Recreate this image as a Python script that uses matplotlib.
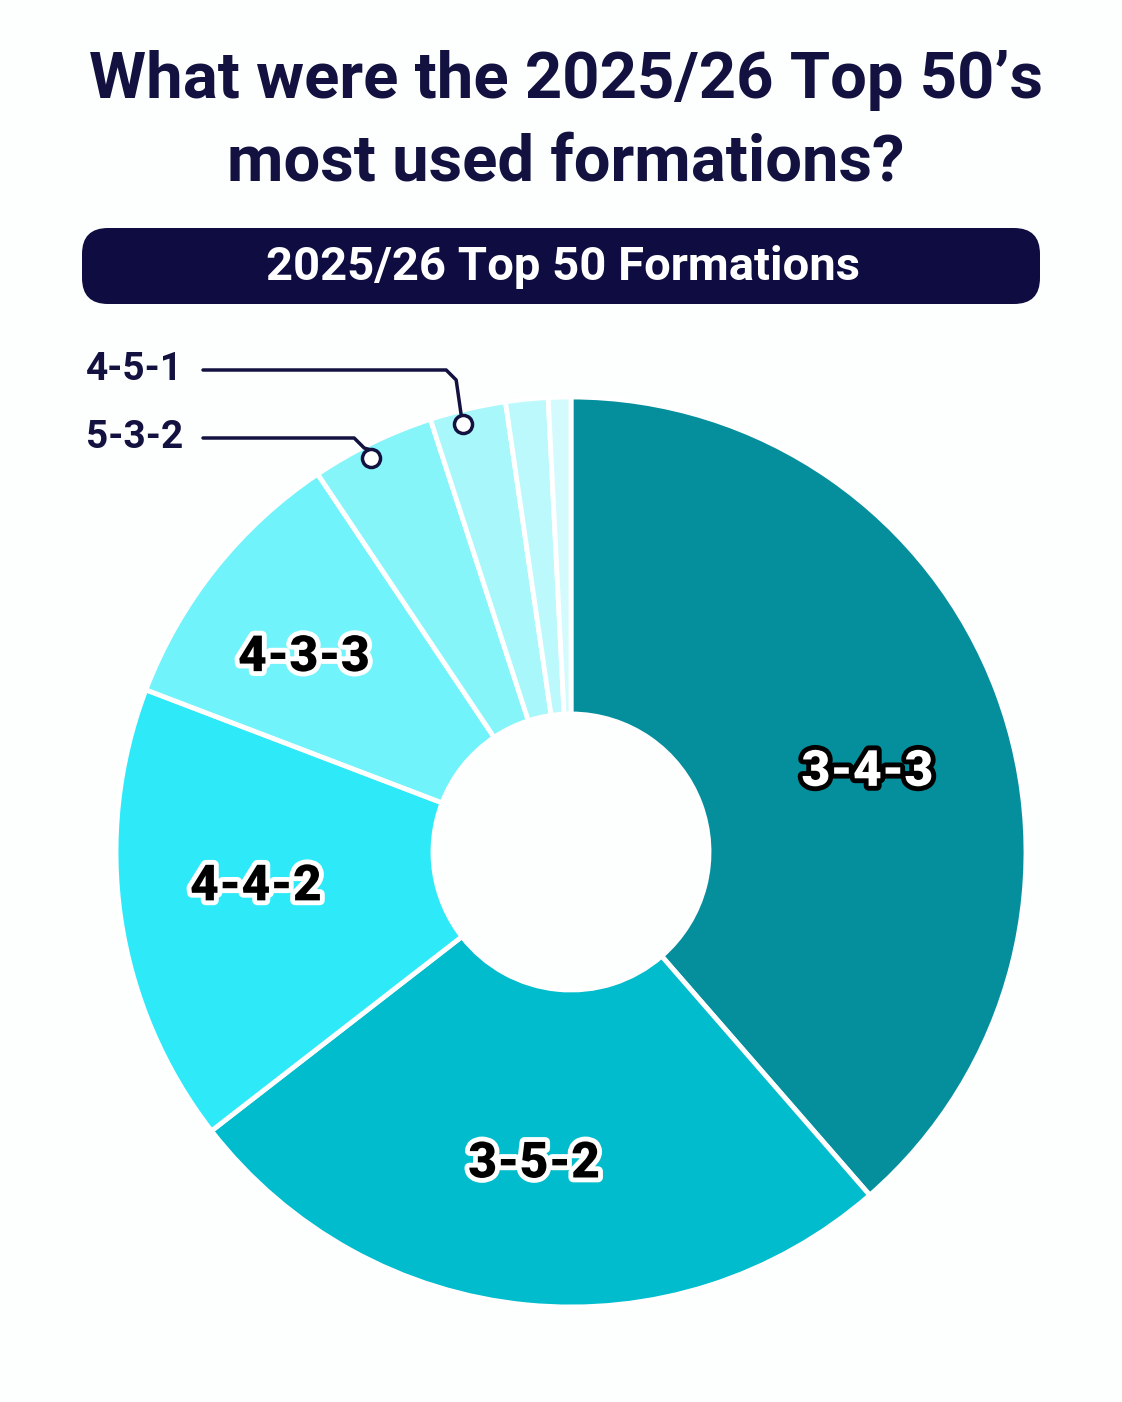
import numpy as np
import matplotlib.pyplot as plt
import matplotlib.patheffects as pe
from matplotlib.patches import FancyBboxPatch

# formation usage (share of matches, %), clockwise from 12 o'clock
formations = ["3-4-3", "3-5-2", "4-4-2", "4-3-3", "5-3-2", "4-5-1", "Other", "Other 2"]
shares = [38.6, 25.9, 16.3, 9.8, 4.4, 2.7, 1.5, 0.8]
colors = ["#058f9d", "#00bccd", "#2eeaf9", "#70f3fa", "#86f5fa", "#a7f7fb", "#bcf9fc", "#d3fbfd"]
inside_labels = ["3-4-3", "3-5-2", "4-4-2", "4-3-3"]
callout_labels = ["4-5-1", "5-3-2"]

title = "What were the 2025/26 Top 50\u2019s\nmost used formations?"
subtitle = "2025/26 Top 50 Formations"

W, H = 1122, 1402
NAVY = "#12113f"
plt.rcParams['font.family'] = ['Roboto', 'DejaVu Sans']

fig = plt.figure(figsize=(W / 100, H / 100), dpi=100)
fig.patch.set_facecolor("#fdfefe")
ax = fig.add_axes([0, 0, 1, 1])

def Y(y):
    # pixel row from top -> data y
    return H - y

cx, cy, R, r_in = 571, 852, 455, 138
wedges, _ = ax.pie(shares, colors=colors, startangle=90, counterclock=False,
                   center=(cx, Y(cy)), radius=R,
                   wedgeprops=dict(width=R - r_in, edgecolor="white", linewidth=3.5))
ax.set_xlim(0, W)
ax.set_ylim(0, H)
ax.set_aspect("equal")
ax.axis("off")

# labels inside the big slices
nudge = {"3-4-3": (-2, -32), "3-5-2": (-6, 5), "4-4-2": (0, 12), "4-3-3": (-18, -4)}
for w, name in zip(wedges, formations):
    if name not in inside_labels:
        continue
    mid = np.deg2rad((w.theta1 + w.theta2) / 2)
    rr = 0.70 * R
    x = cx + rr * np.cos(mid) + nudge[name][0]
    y = Y(cy) + rr * np.sin(mid) + nudge[name][1]
    if name == "3-4-3":
        fc, ec = "white", "black"
    else:
        fc, ec = "black", "white"
    t = ax.text(x, y, name, color=fc, fontsize=36, fontweight="heavy",
                ha="center", va="center")
    t.set_path_effects([pe.withStroke(linewidth=7, foreground=ec)])

# callouts for small slices
label_rows = {"4-5-1": 370, "5-3-2": 438}
for w, name in zip(wedges, formations):
    if name not in callout_labels:
        continue
    mid = np.deg2rad((w.theta1 + w.theta2) / 2 + 1.0)
    dx, dy = cx + 0.97 * R * np.cos(mid), Y(cy) + 0.97 * R * np.sin(mid)
    ly = Y(label_rows[name])
    ax.text(183, ly, name, color=NAVY, fontsize=28, fontweight="bold",
            ha="right", va="center")
    xs = [203, dx - 17, dx - 7, dx - 2]
    ys = [ly, ly, ly - 10, dy + 9]
    ax.plot(xs, ys, color=NAVY, lw=2.5, solid_joinstyle="round", solid_capstyle="round")
    ax.plot(dx, dy, "o", ms=13, mfc="white", mec=NAVY, mew=2.5)

# title
ax.text(W / 2 + 5, Y(122), title, color=NAVY, fontsize=47, fontweight="bold",
        ha="center", va="center", linespacing=1.45)

# subtitle banner
banner = FancyBboxPatch((82 + 26, Y(304) + 26), 958 - 52, 76 - 52,
                        boxstyle="round,pad=26", fc="#0e0c40", ec="none")
ax.add_patch(banner)
ax.text(W / 2 + 2, Y(267), subtitle, color="white", fontsize=34, fontweight="bold",
        ha="center", va="center")

fig.savefig("out.png", dpi=100, facecolor=fig.get_facecolor())
